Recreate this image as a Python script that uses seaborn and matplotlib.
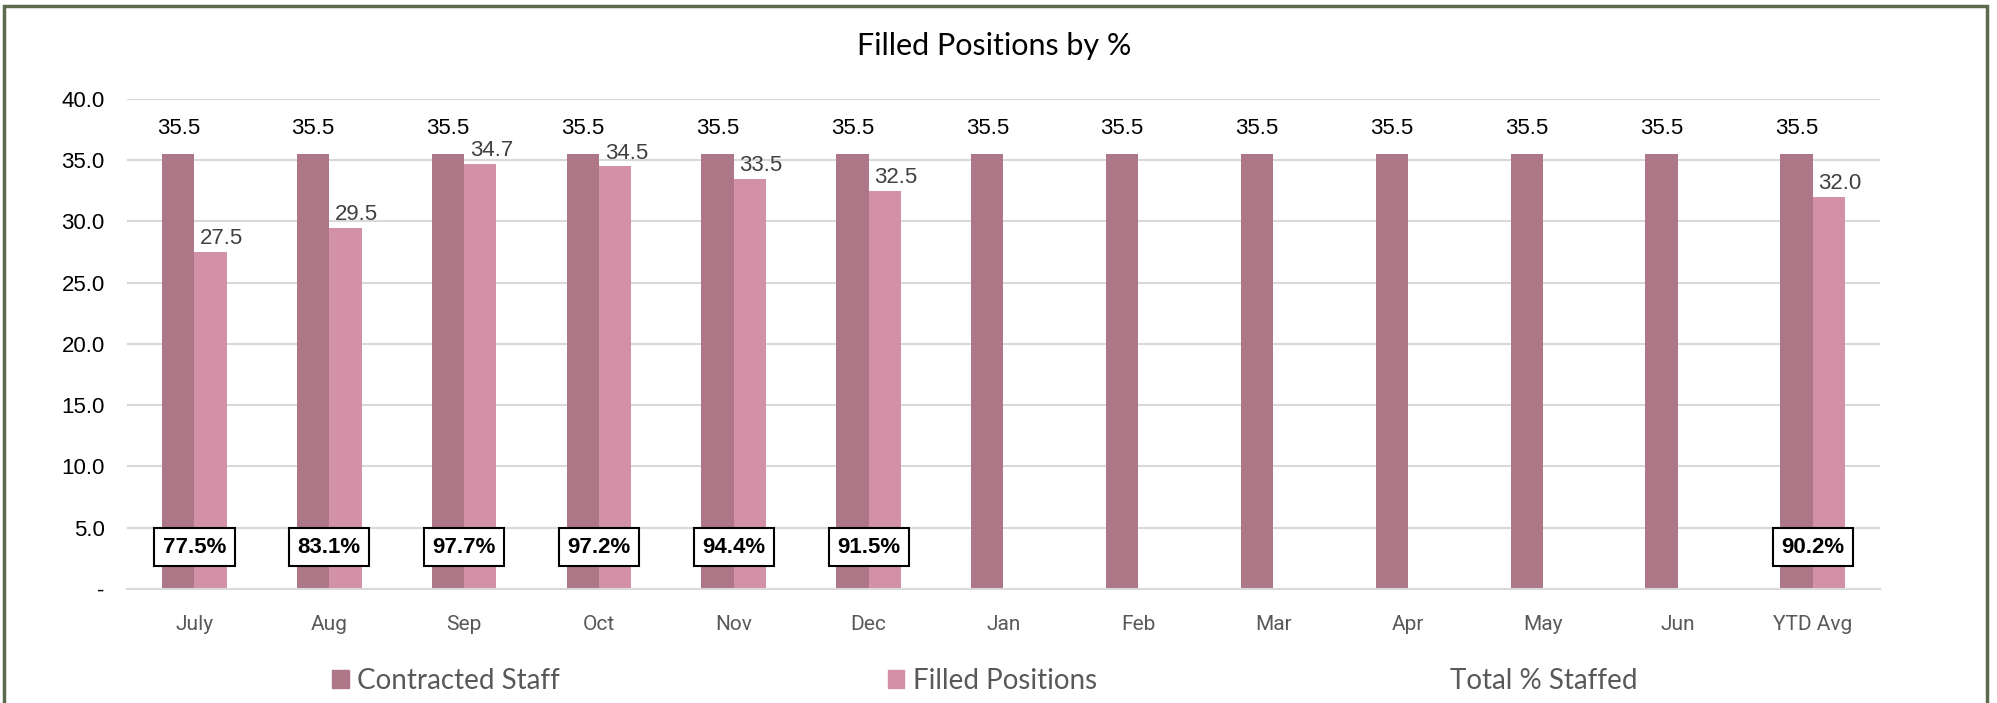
import numpy as np
import pandas as pd
import matplotlib
matplotlib.use("Agg")
import matplotlib.pyplot as plt
from matplotlib.patches import Patch, Rectangle
import seaborn as sns

# -------- Data --------
months = ["July", "Aug", "Sep", "Oct", "Nov", "Dec", "Jan", "Feb", "Mar",
          "Apr", "May", "Jun", "YTD Avg"]
contracted = [35.5] * 13
filled = [27.5, 29.5, 34.7, 34.5, 33.5, 32.5,
          np.nan, np.nan, np.nan, np.nan, np.nan, np.nan, 32.0]
pct_staffed = [77.5, 83.1, 97.7, 97.2, 94.4, 91.5,
               np.nan, np.nan, np.nan, np.nan, np.nan, np.nan, 90.2]
series = ["Contracted Staff", "Filled Positions"]
colors = {"Contracted Staff": "#AD7788", "Filled Positions": "#D291A6"}

df = pd.DataFrame({
    "month": months * 2,
    "series": [series[0]] * 13 + [series[1]] * 13,
    "value": contracted + filled,
})

# -------- Plot --------
sns.set_style("white")
plt.rcParams["font.family"] = ["Liberation Sans", "DejaVu Sans"]

fig = plt.figure(figsize=(19.97, 7.03), dpi=100)
ax = fig.add_axes([0.0636, 0.1622, 0.8778, 0.697])

sns.barplot(data=df, x="month", y="value", hue="series", order=months,
            hue_order=series, palette=colors, width=0.48, linewidth=0,
            saturation=1, legend=False, ax=ax)

ax.set_ylim(0, 40)
ax.set_xlim(-0.5, len(months) - 0.5)
yt = np.arange(0, 45, 5)
ax.set_yticks(yt)
ax.set_yticklabels(["-"] + [f"{v:.1f}" for v in yt[1:]], fontsize=16, color="black")
ax.yaxis.grid(True, color="#D9D9D9", linewidth=1.5)
ax.set_axisbelow(True)
ax.tick_params(axis="y", length=0, pad=16)
ax.tick_params(axis="x", length=0, pad=19, labelsize=15, labelcolor="#595959")
for lab in ax.get_xticklabels():
    lab.set_family("Roboto")
ax.set_xticks(np.arange(-0.5, len(months)), minor=True)
ax.tick_params(axis="x", which="minor", length=5, width=1.5, color="#D9D9D9")
ax.set_xlabel("")
ax.set_ylabel("")
for s in ["left", "right", "top"]:
    ax.spines[s].set_visible(False)
ax.spines["bottom"].set_color("#D9D9D9")
ax.spines["bottom"].set_linewidth(1.5)

# value labels
for bar in ax.containers[0]:
    h = bar.get_height()
    ax.annotate(f"{h:.1f}", (bar.get_x() + bar.get_width() / 2, h),
                xytext=(0, 11), textcoords="offset points",
                ha="center", va="bottom", fontsize=16, color="black")
for bar in ax.containers[1]:
    h = bar.get_height()
    if np.isnan(h):
        continue
    ax.annotate(f"{h:.1f}", (bar.get_x() + bar.get_width() / 2, h),
                xytext=(8, 2), textcoords="offset points",
                ha="center", va="bottom", fontsize=16, color="#404040")

# % staffed boxes
for i, p in enumerate(pct_staffed):
    if np.isnan(p):
        continue
    ax.text(i, 3.4, f"{p:.1f}%", ha="center", va="center", fontsize=16,
            fontweight="bold", color="black",
            bbox=dict(boxstyle="square,pad=0.38", fc="white", ec="black", lw=1.5))

fig.text(0.498, 1 - 46 / 703, "Filled Positions by %", ha="center", va="center",
         fontsize=22, family="Lato", color="black")

handles = [Patch(color=colors[series[0]]), Patch(color=colors[series[1]]),
           Patch(color="white")]
fig.legend(handles, series + ["Total % Staffed"], loc="center",
           bbox_to_anchor=(0.493, 1 - 681 / 703), ncol=3, frameon=False,
           prop={"family": "Lato", "size": 20}, labelcolor="#595959",
           handlelength=0.6, handleheight=0.6, handletextpad=0.3,
           columnspacing=11.8)

# outer frame
fig.patches.append(Rectangle((4 / 1997, -0.02), 1983 / 1997, 1.02 - 5.5 / 703,
                             transform=fig.transFigure, fill=False,
                             ec="#5B6B4B", lw=2.5))

fig.savefig("out.png", dpi=100)
